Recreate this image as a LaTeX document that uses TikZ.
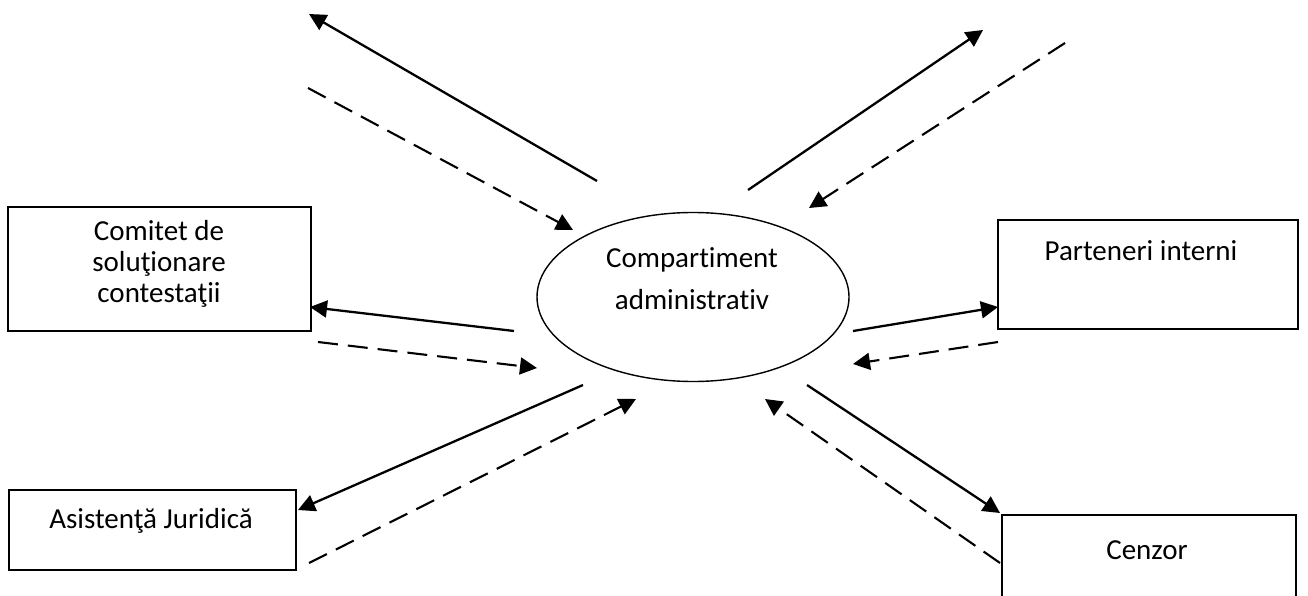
\documentclass[tikz,border=0pt]{standalone}
\usepackage{fontspec}
\setmainfont{Carlito}[Ligatures=NoCommon]
\usetikzlibrary{arrows.meta,shapes.geometric}
\tikzset{x=1pt,y=-1pt,
 boxn/.style={draw,line width=1.6pt,inner sep=0pt,anchor=north west},
 lbl/.style={font=\fontsize{29}{31}\selectfont,align=center,inner sep=0pt},
 lblw/.style={font=\fontsize{29}{42}\selectfont,align=center,inner sep=0pt},
 sol/.style={line width=2.3pt,-{Triangle[length=17pt,width=17pt]}},
 das/.style={line width=2.1pt,dash pattern=on 20pt off 10pt,-{Triangle[length=17pt,width=17pt]}}}
\begin{document}
\begin{tikzpicture}
\useasboundingbox (0,0) rectangle (1308,596);
\fill[white] (0,0) rectangle (1308,596);
\node[boxn,minimum width=303pt,minimum height=124pt] (comitet) at (7,206) {};
\node[lbl] (comitett) at (159,264) {Comitet de\\soluţionare\\contestaţii};
\node[boxn,minimum width=287pt,minimum height=80pt] (asist) at (8,489) {};
\node[lbl] (asistt) at (151,521) {Asistenţă Juridică};
\node[boxn,minimum width=300pt,minimum height=109pt] (part) at (997,219) {};
\node[lbl] (partt) at (1141,251) {Parteneri interni};
\node[boxn,minimum width=294pt,minimum height=86pt] (cenz) at (1001,514) {};
\node[lbl] (cenzt) at (1147,550) {Cenzor};
\node[draw,line width=1.4pt,ellipse,minimum width=312pt,minimum height=169pt,inner sep=0pt] (comp) at (693,297) {};
\node[lblw] (compt) at (692,279) {Compartiment\\administrativ};
\coordinate (a1) at (597,181); \coordinate (a2) at (309,14);
\coordinate (b1) at (308,88); \coordinate (b2) at (573,230);
\coordinate (c1) at (748,190); \coordinate (c2) at (983,30);
\coordinate (d1) at (1065,43); \coordinate (d2) at (809,208);
\coordinate (e1) at (514,331); \coordinate (e2) at (310,307);
\coordinate (f1) at (318,342); \coordinate (f2) at (537,368);
\coordinate (g1) at (583,385); \coordinate (g2) at (298,510);
\coordinate (h1) at (309,563); \coordinate (h2) at (636,399);
\coordinate (i1) at (853,331); \coordinate (i2) at (998,307);
\coordinate (j1) at (998,342); \coordinate (j2) at (853,364);
\coordinate (k1) at (807,385); \coordinate (k2) at (1000,513);
\coordinate (l1) at (1000,563); \coordinate (l2) at (765,399);
\draw[sol] (a1)--(a2); \draw[das] (b1)--(b2);
\draw[sol] (c1)--(c2); \draw[das] (d1)--(d2);
\draw[sol] (e1)--(e2); \draw[das] (f1)--(f2);
\draw[sol] (g1)--(g2); \draw[das] (h1)--(h2);
\draw[sol] (i1)--(i2); \draw[das] (j1)--(j2);
\draw[sol] (k1)--(k2); \draw[das] (l1)--(l2);
\end{tikzpicture}
\end{document}
